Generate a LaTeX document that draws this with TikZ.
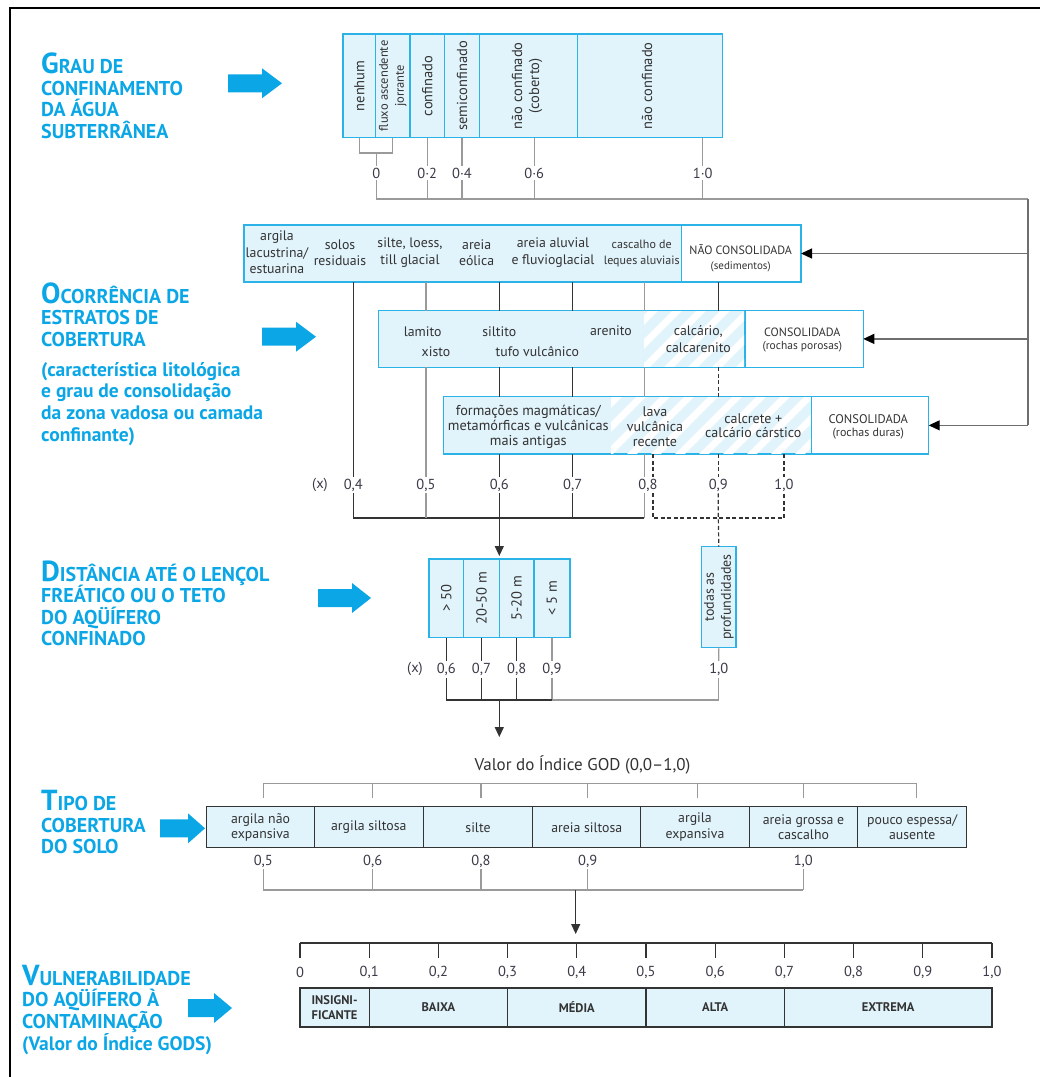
\documentclass[tikz,border=0pt]{standalone}
\usepackage{fontspec}
\setmainfont{PT Sans}
\usetikzlibrary{arrows.meta,calc}
\definecolor{hblue}{HTML}{0AA6E6}
\definecolor{bfill}{HTML}{E1F3FB}
\definecolor{bline}{HTML}{2BB3E8}
\definecolor{dline}{HTML}{333333}
\definecolor{gline}{HTML}{9A9A9A}
\definecolor{mline}{HTML}{6E6E6E}
\definecolor{txt}{HTML}{333333}
\definecolor{lab}{HTML}{3A3A48}
\newcommand\BigL[1]{{\fontsize{29}{29}\selectfont #1}}
\newcommand\blkarrow[4]{\fill[hblue] (#1,#4-9) -- (#2,#4-9) -- (#2,#4-15) -- (#3,#4) -- (#2,#4+15) -- (#2,#4+9) -- (#1,#4+9) -- cycle;}
\begin{document}
\begin{tikzpicture}[x=1pt,y=-1pt,
  cell/.style={anchor=north west, inner sep=0pt, outer sep=0pt},
  cbox/.style={cell, fill=bfill, draw=bline, line width=1.4pt},
  wbox/.style={cell, fill=white, draw=bline, line width=1.4pt},
  kbox/.style={cell, fill=bfill, draw=dline, line width=1.1pt, font=\fontsize{13.8}{15.5}\selectfont, text=txt, align=center},
  vbox/.style={cell, fill=bfill, draw=dline, line width=1.1pt, font=\fontsize{12.5}{14.5}\selectfont\bfseries, text=txt, align=center},
  btxt/.style={font=\fontsize{13.8}{16.5}\selectfont, text=txt, align=center, inner sep=0pt},
  rtxt/.style={btxt, font=\fontsize{14.5}{17}\selectfont, rotate=90},
  lbl/.style={font=\fontsize{14.5}{15}\selectfont, text=lab, inner sep=2pt},
  dk/.style={draw=dline, line width=1.2pt},
  gr/.style={draw=gline, line width=1.2pt},
  dsh/.style={dk, dash pattern=on 4pt off 2.5pt},
  arr/.style={dk, -{Triangle[length=10pt,width=9pt]}},
  rarr/.style={draw=mline, line width=1.2pt, -{Triangle[length=11pt,width=10pt,color=black]}},
  hd/.style={font=\fontsize{20}{22}\selectfont\bfseries, text=hblue, anchor=base west, inner sep=0pt},
  hs/.style={font=\fontsize{19.5}{22}\selectfont\bfseries, text=hblue, anchor=base west, inner sep=0pt}
]
\useasboundingbox (0,0) rectangle (1040,1077);
\draw[black, line width=1.8pt] (10,1080) -- (10,8) -- (1045,8);

% ---------- headings ----------
\node[hd] (h1a) at (41,73.3) {\BigL{G}RAU DE};
\node[hd] (h1b) at (41,95) {CONFINAMENTO};
\node[hd] (h1c) at (41,116.5) {DA ÁGUA};
\node[hd] (h1d) at (41,138) {SUBTERRÂNEA};
\node[hd] (h2a) at (41,303.3) {\BigL{O}CORRÊNCIA DE};
\node[hd] (h2b) at (41,324.7) {ESTRATOS DE};
\node[hd] (h2c) at (41,346) {COBERTURA};
\node[hs] (h2d) at (41,376) {(característica litológica};
\node[hs] (h2e) at (41,397.7) {e grau de consolidação};
\node[hs] (h2f) at (41,419.5) {da zona vadosa ou camada};
\node[hs] (h2g) at (41,441.2) {confinante)};
\node[hd] (h3a) at (41,581) {\BigL{D}ISTÂNCIA ATÉ O LENÇOL};
\node[hd] (h3b) at (41,602.5) {FREÁTICO OU O TETO};
\node[hd] (h3c) at (41,624) {DO AQÜÍFERO};
\node[hd] (h3d) at (41,645.5) {CONFINADO};
\node[hd] (h4a) at (41,810.7) {\BigL{T}IPO DE};
\node[hd] (h4b) at (41,832.2) {COBERTURA};
\node[hd] (h4c) at (41,853.7) {DO SOLO};
\node[hd] (h5a) at (22,985) {\BigL{V}ULNERABILIDADE};
\node[hd] (h5b) at (22,1006.5) {DO AQÜÍFERO À};
\node[hd] (h5c) at (22,1028) {CONTAMINAÇÃO};
\node[hs] (h5d) at (22,1050) {(Valor do Índice GODS)};

\blkarrow{228}{262}{282}{83.3}
\blkarrow{262}{296}{316}{336.7}
\blkarrow{318}{352}{371}{598}
\blkarrow{160}{188}{205}{828.3}
\blkarrow{188}{214}{232}{1008}

% ---------- section 1: grau de confinamento ----------
\node[cbox, minimum width=32.7pt, minimum height=103.7pt] (g1) at (343,34) {};
\node[cbox, minimum width=34.3pt, minimum height=103.7pt] (g2) at (375.7,34) {};
\node[cbox, minimum width=34.7pt, minimum height=103.7pt] (g3) at (410,34) {};
\node[cbox, minimum width=34.6pt, minimum height=103.7pt] (g4) at (444.7,34) {};
\node[cbox, minimum width=98.4pt, minimum height=103.7pt] (g5) at (479.3,34) {};
\node[cbox, minimum width=144.6pt, minimum height=103.7pt] (g6) at (577.7,34) {};
\node[rtxt] (tg1) at (g1.center) {nenhum};
\node[rtxt, font=\fontsize{12.5}{16}\selectfont] (tg2) at (g2.center) {fluxo ascendente\\jorrante};
\node[rtxt] (tg3) at (g3.center) {confinado};
\node[rtxt] (tg4) at (g4.center) {semiconfinado};
\node[rtxt] (tg5) at ($(g5.center)+(-1.5,0)$) {não confinado\\(coberto)};
\node[rtxt] (tg6) at ($(g6.center)+(-3,0)$) {não confinado};

\node[lbl] (gl0) at (376.3,173) {0};
\node[lbl] (gl2) at (427.3,173) {0·2};
\node[lbl] (gl4) at (462,173) {0·4};
\node[lbl] (gl6) at (534.3,173) {0·6};
\node[lbl] (gl10) at (702.7,173) {1·0};
\coordinate (brk) at (376.3,153);
\coordinate (hl) at (1028,199);
\draw[gr] (g1.south) -- (g1.south |- brk) -- (g2.south |- brk) -- (g2.south);
\draw[gr] (brk) -- (gl0.north);
\draw[gr] (gl2 |- g3.south) -- (gl2.north);
\draw[gr] (gl4 |- g4.south) -- (gl4.north);
\draw[gr] (gl6 |- g5.south) -- (gl6.north);
\draw[gr] (gl10 |- g6.south) -- (gl10.north);
\foreach \n in {gl2,gl4,gl6,gl10} \draw[gr] (\n.south) -- (\n |- hl);
\draw[gr] (gl0.south) -- (gl0 |- hl) -- (hl);
\draw[draw=mline, line width=1.2pt] (hl) -- (1028,425);

% ---------- section 2: estratos de cobertura ----------
\node[cbox, minimum width=437.7pt, minimum height=57pt] (r1a) at (244,225) {};
\node[wbox, minimum width=119.3pt, minimum height=57pt] (r1b) at (681.7,225) {};
\node[cbox, minimum width=366.7pt, minimum height=56.8pt] (r2a) at (378.3,310.5) {};
\node[wbox, minimum width=118.3pt, minimum height=56.8pt] (r2b) at (745,310.5) {};
\node[cbox, minimum width=368.4pt, minimum height=57.3pt] (r3a) at (443.3,396.7) {};
\node[wbox, minimum width=117pt, minimum height=57.3pt] (r3b) at (811.7,396.7) {};
\begin{scope}
  \clip (644,311.3) rectangle (744.2,366.6);
  \foreach \k in {560,584,...,760} \draw[white, line width=7pt] (\k,380) -- (\k+90,290);
\end{scope}
\begin{scope}
  \clip (611,397.5) rectangle (810.9,453.3);
  \foreach \k in {520,544,...,830} \draw[white, line width=7pt] (\k,470) -- (\k+90,380);
\end{scope}

\node[btxt] (n11) at (277,252.3) {argila\\lacustrina/\\estuarina};
\node[btxt] (n12) at (340,252.7) {solos\\residuais};
\node[btxt] (n13) at (410,252.7) {silte, loess,\\till glacial};
\node[btxt] (n14) at (476.7,252.7) {areia\\eólica};
\node[btxt] (n15) at (553,252.7) {areia aluvial\\e fluvioglacial};
\node[btxt, font=\fontsize{12}{15.5}\selectfont] (n16) at (641.7,253.3) {cascalho de\\leques aluviais};
\node[btxt, font=\fontsize{12}{13}\selectfont] (nc1) at (740.7,249.3) {NÃO CONSOLIDADA};
\node[btxt, font=\fontsize{11}{12}\selectfont] (nc1s) at (740.7,266.7) {(sedimentos)};

\node[btxt] (n21) at (422.7,331.7) {lamito};
\node[btxt] (n22) at (436,351.7) {xisto};
\node[btxt] (n23) at (499.3,331.7) {siltito};
\node[btxt] (n24) at (537.3,351.7) {tufo vulcânico};
\node[btxt] (n25) at (611,331) {arenito};
\node[btxt] (n26) at (698.3,339.3) {calcário,\\calcarenito};
\node[btxt, font=\fontsize{12}{13}\selectfont] (nc2) at (802.3,332.3) {CONSOLIDADA};
\node[btxt, font=\fontsize{11.5}{12}\selectfont] (nc2s) at (802.3,347) {(rochas porosas)};

\node[btxt, font=\fontsize{14.3}{15}\selectfont] (n31) at (528.3,426.7) {formações magmáticas/\\metamórficas e vulcânicas\\mais antigas};
\node[btxt, font=\fontsize{14}{15}\selectfont] (n32) at (655,426.5) {lava\\vulcânica\\recente};
\node[btxt, font=\fontsize{14}{13.5}\selectfont] (n33) at (753.3,425.8) {calcrete +\\calcário cárstico};
\node[btxt, font=\fontsize{12.5}{13}\selectfont] (nc3) at (868.3,419.3) {CONSOLIDADA};
\node[btxt, font=\fontsize{12}{13}\selectfont] (nc3s) at (868.3,433.3) {(rochas duras)};

\draw[rarr] (hl |- r1b.east) -- (r1b.east);
\draw[rarr] (hl |- r2b.east) -- (r2b.east);
\draw[rarr] (hl |- r3b.east) -- (r3b.east);

\node[lbl] (ox) at (320,485) {(x)};
\node[lbl] (o04) at (353.3,485) {0,4};
\node[lbl] (o05) at (426,485) {0,5};
\node[lbl] (o06) at (499.3,485) {0,6};
\node[lbl] (o07) at (572.7,485) {0,7};
\node[lbl] (o08) at (648,485) {0,8};
\node[lbl] (o09) at (718.3,485) {0,9};
\node[lbl] (o10) at (784,485) {1,0};
\coordinate (bk) at (0,518);
\coordinate (c08) at (644.3,518);
\coordinate (c8d) at (653,518);

\draw[dk] (o04 |- r1a.south) -- (o04.north);
\draw[dk] (o04.south) -- (o04 |- bk) -- (c08);
\draw[gr] (o05 |- r1a.south) -- (o05 |- r2a.north);
\draw[gr] (o05 |- r2a.south) -- (o05.north);
\draw[gr] (o05.south) -- (o05 |- bk);
\foreach \n in {o06,o07}{
  \draw[dk] (\n |- r1a.south) -- (\n |- r2a.north);
  \draw[dk] (\n |- r2a.south) -- (\n |- r3a.north);
  \draw[dk] (\n |- r3a.south) -- (\n.north);
  \draw[dk] (\n.south) -- (\n |- bk);
}
\draw[gr] (c08 |- r1a.south) -- (c08 |- r2a.north);
\draw[gr] (c08 |- r2a.south) -- (c08 |- r3a.north);
\draw[gr] (c08 |- r3a.south) -- (c08 |- o08.north);
\draw[gr] (c08 |- o08.south) -- (c08);
\draw[dk] (o09 |- r1b.south) -- (o09 |- r2a.north);
\draw[dsh] (o09 |- r2a.south) -- (o09 |- r3a.north);
\draw[dsh] (o09 |- r3a.south) -- (o09.north);
\draw[dsh] (o10 |- r3a.south) -- (o10.north);
\draw[dsh] (c8d |- r3a.south) -- (c8d |- o08.north);
\draw[dsh] (c8d |- o08.south) -- (c8d) -- (o10 |- bk) -- (o10.south);

% ---------- section 3: distancia ----------
\node[cbox, minimum width=34.7pt, minimum height=78.7pt] (d1) at (429,559) {};
\node[cbox, minimum width=35.6pt, minimum height=78.7pt] (d2) at (463.7,559) {};
\node[cbox, minimum width=34.7pt, minimum height=78.7pt] (d3) at (499.3,559) {};
\node[cbox, minimum width=36pt, minimum height=78.7pt] (d4) at (534,559) {};
\node[rtxt] (td1) at (d1.center) {> 50};
\node[rtxt] (td2) at (d2.center) {20-50 m};
\node[rtxt] (td3) at (d3.center) {5-20 m};
\node[rtxt] (td4) at (d4.center) {< 5 m};
\node[cbox, minimum width=34.3pt, minimum height=100.6pt] (tp) at (701.7,546.7) {};
\node[rtxt, font=\fontsize{14}{17}\selectfont] (ttp) at (tp.center) {todas as\\profundidades};

\draw[dsh] (o09.south) -- (o09 |- bk) -- (tp.north);
\draw[arr] (o06.south |- bk) -- ($(d2.north east)+(0,-3)$);

\node[lbl] (dx) at (415,669.3) {(x)};
\node[lbl] (e06) at (446.3,669.3) {0,6};
\node[lbl] (e07) at (481.5,669.3) {0,7};
\node[lbl] (e08) at (516.7,669.3) {0,8};
\node[lbl] (e09) at (552,669.3) {0,9};
\node[lbl] (e10) at (718.8,669.3) {1,0};
\coordinate (db) at (0,700);
\coordinate (da) at (499.3,700);
\foreach \n in {e06,e07,e08}{
  \draw[dk] (\n |- d1.south) -- (\n.north);
  \draw[dk] (\n.south) -- (\n |- db);
}
\draw[gr] (e09 |- d1.south) -- (e09.north);
\draw[gr] (e09.south) -- (e09 |- db);
\draw[gr] (tp.south) -- (e10.north);
\draw[gr] (e10.south) -- (e10 |- db) -- (e09 |- db);
\draw[dk] (e06 |- db) -- (e09 |- db);
\draw[arr] (da) -- (499.3,737);

\node[font=\fontsize{17}{18}\selectfont, text=txt] (god) at (582.5,765) {Valor do Índice GOD (0,0–1,0)};

% ---------- section 4: tipo de cobertura do solo ----------
\node[kbox, minimum width=107.6pt, minimum height=41pt] (s1) at (206.7,806.7) {argila não\\expansiva};
\node[kbox, minimum width=109pt, minimum height=41pt] (s2) at (314.3,806.7) {argila siltosa};
\node[kbox, minimum width=109.4pt, minimum height=41pt] (s3) at (423.3,806.7) {silte};
\node[kbox, minimum width=108pt, minimum height=41pt] (s4) at (532.7,806.7) {areia siltosa};
\node[kbox, minimum width=108.6pt, minimum height=41pt] (s5) at (640.7,806.7) {argila\\expansiva};
\node[kbox, minimum width=108.4pt, minimum height=41pt] (s6) at (749.3,806.7) {areia grossa e\\cascalho};
\node[kbox, minimum width=109pt, minimum height=41pt] (s7) at (857.7,806.7) {pouco espessa/\\ausente};

\node[lbl] (u05) at (263.3,861) {0,5};
\node[lbl] (u06) at (372.7,861) {0,6};
\node[lbl] (u08) at (481,861) {0,8};
\node[lbl] (u09) at (587.7,861) {0,9};
\node[lbl] (u10) at (803.3,861) {1,0};
\coordinate (tb) at (0,783.3);
\coordinate (te) at (0,798);
\coordinate (t5) at (697.7,783.3);
\coordinate (t7) at (916.7,783.3);
\draw[gr] (u05 |- te) -- (u05 |- tb) -- (t7) -- (t7 |- te);
\foreach \n in {u06,u08,u09,u10} \draw[gr] (\n |- tb) -- (\n |- te);
\draw[gr] (t5) -- (t5 |- te);
\coordinate (sb) at (0,890);
\coordinate (sa) at (575.7,890);
\foreach \n in {u05,u06,u08,u09,u10} \draw[gr] (\n.south) -- (\n |- sb);
\draw[gr] (u05 |- sb) -- (u10 |- sb);
\draw[arr] (sa) -- (575.7,934);

% ---------- section 5: vulnerabilidade ----------
\draw[dk] (300,943) -- (992,943);
\foreach \i/\t in {0/0,1/{0,1},2/{0,2},3/{0,3},4/{0,4},5/{0,5},6/{0,6},7/{0,7},8/{0,8},9/{0,9},10/{1,0}}{
  \draw[dk] (300+69.2*\i,943) -- (300+69.2*\i,958);
  \node[lbl] (vl\i) at (300+69.2*\i,972) {\t};
}
\node[vbox, minimum width=69.2pt, minimum height=39pt] (v1) at (300,988) {INSIGNI-\\FICANTE};
\node[vbox, minimum width=138.4pt, minimum height=39pt] (v2) at (369.2,988) {BAIXA};
\node[vbox, minimum width=138.4pt, minimum height=39pt] (v3) at (507.6,988) {MÉDIA};
\node[vbox, minimum width=138.4pt, minimum height=39pt] (v4) at (646,988) {ALTA};
\node[vbox, minimum width=207.6pt, minimum height=39pt] (v5) at (784.4,988) {EXTREMA};
\end{tikzpicture}
\end{document}
